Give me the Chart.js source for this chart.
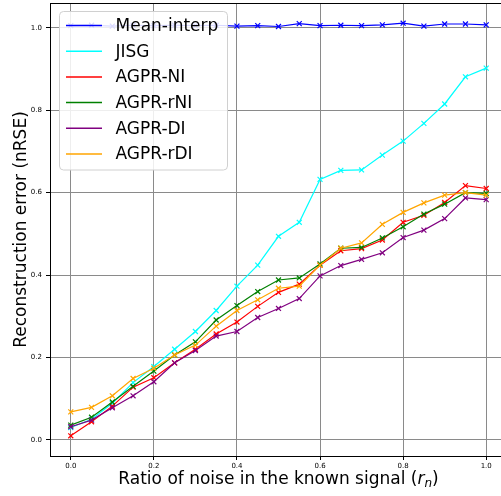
<!DOCTYPE html>
<html>
<head>
<meta charset="utf-8">
<script src="https://cdn.jsdelivr.net/npm/chart.js@4.4.1/dist/chart.umd.min.js"></script>
<style>
html,body{margin:0;padding:0;background:#fff;overflow:hidden;}
canvas{display:block;}
</style>
</head>
<body>
<canvas id="c" width="501" height="496"></canvas>
<script>
const noiseRatio = [0,0.05,0.1,0.15,0.2,0.25,0.3,0.35,0.4,0.45,0.5,0.55,0.6,0.65,0.7,0.75,0.8,0.85,0.9,0.95,1.0];
const meanInterp = [1.005,1.006,1.004,1.006,1.005,1.006,1.005,1.006,1.004,1.005,1.003,1.010,1.005,1.006,1.005,1.007,1.011,1.004,1.009,1.009,1.007];
const jisg       = [0.030,0.050,0.089,0.139,0.178,0.220,0.263,0.314,0.373,0.424,0.494,0.528,0.632,0.654,0.655,0.691,0.725,0.768,0.815,0.881,0.902];
const agprNI     = [0.010,0.044,0.082,0.128,0.151,0.187,0.220,0.257,0.286,0.324,0.358,0.378,0.424,0.459,0.464,0.485,0.528,0.545,0.576,0.617,0.610];
const agprRNI    = [0.036,0.055,0.092,0.130,0.167,0.206,0.238,0.291,0.326,0.360,0.388,0.393,0.427,0.465,0.467,0.490,0.517,0.548,0.572,0.600,0.598];
const agprDI     = [0.032,0.048,0.078,0.107,0.141,0.187,0.217,0.252,0.263,0.297,0.319,0.343,0.398,0.423,0.438,0.454,0.491,0.509,0.537,0.587,0.583];
const agprRDI    = [0.068,0.079,0.107,0.149,0.174,0.206,0.230,0.276,0.314,0.340,0.368,0.373,0.424,0.465,0.478,0.523,0.552,0.575,0.594,0.600,0.594];
const seriesLabels = ["Mean-interp","JISG","AGPR-NI","AGPR-rNI","AGPR-DI","AGPR-rDI"];
const seriesColors = ["#0000ff","#00ffff","#ff0000","#008000","#800080","#ffa500"];
const tickValues = [0,0.2,0.4,0.6,0.8,1.0];

const allSeries = [meanInterp, jisg, agprNI, agprRNI, agprDI, agprRDI];
const FONT = "'DejaVu Sans', sans-serif";
const GRID = '#8a8a8a';

const datasets = allSeries.map((vals, i) => ({
  label: seriesLabels[i],
  data: vals.map((v, j) => ({x: noiseRatio[j], y: v})),
  borderColor: seriesColors[i],
  backgroundColor: seriesColors[i],
  borderWidth: 1.2,
  pointStyle: 'crossRot',
  pointRadius: 3.5,
  pointBorderWidth: 1.2,
  pointBorderColor: seriesColors[i],
  tension: 0,
  fill: false,
  order: allSeries.length - i
}));

const extras = {
  id: 'extras',
  afterDatasetsDraw(chart) {
    const ctx = chart.ctx;
    const a = chart.chartArea;
    ctx.save();
    // clean right strip (axes continue past the window edge), then redraw horizontal grid pieces
    ctx.fillStyle = '#fff';
    ctx.fillRect(496, a.top, 10, a.bottom - a.top);
    ctx.strokeStyle = GRID;
    ctx.lineWidth = 1;
    tickValues.forEach(v => {
      const y = Math.round(chart.scales.y.getPixelForValue(v) - 0.5) + 0.5;
      ctx.beginPath();
      ctx.moveTo(495, y);
      ctx.lineTo(506, y);
      ctx.stroke();
    });
    // top spine
    ctx.strokeStyle = '#000';
    ctx.lineWidth = 1;
    ctx.beginPath();
    ctx.moveTo(a.left, a.top + 0.5);
    ctx.lineTo(a.right + 5, a.top + 0.5);
    ctx.stroke();
    // legend
    const bx = 59.5, by = 11.5, bw = 168, bh = 158.5, r = 4;
    ctx.beginPath();
    ctx.moveTo(bx + r, by);
    ctx.lineTo(bx + bw - r, by);
    ctx.quadraticCurveTo(bx + bw, by, bx + bw, by + r);
    ctx.lineTo(bx + bw, by + bh - r);
    ctx.quadraticCurveTo(bx + bw, by + bh, bx + bw - r, by + bh);
    ctx.lineTo(bx + r, by + bh);
    ctx.quadraticCurveTo(bx, by + bh, bx, by + bh - r);
    ctx.lineTo(bx, by + r);
    ctx.quadraticCurveTo(bx, by, bx + r, by);
    ctx.closePath();
    ctx.fillStyle = 'rgba(255,255,255,0.85)';
    ctx.fill();
    ctx.strokeStyle = '#d0d0d0';
    ctx.lineWidth = 1;
    ctx.stroke();
    ctx.font = '17px ' + FONT;
    ctx.textBaseline = 'middle';
    ctx.textAlign = 'left';
    seriesLabels.forEach((lab, i) => {
      const y = 25.5 + i * 25.7;
      ctx.strokeStyle = seriesColors[i];
      ctx.lineWidth = 1.5;
      ctx.beginPath();
      ctx.moveTo(66, y);
      ctx.lineTo(102, y);
      ctx.stroke();
      ctx.fillStyle = '#000';
      ctx.fillText(lab, 115.5, y + 1);
    });
    // x axis title with italic r and subscript n (centred on full axes width, which extends past the window)
    const cx = 278.5;
    const base = 483.5;
    const p1 = 'Ratio of noise in the known signal (';
    const p2 = 'r';
    const p3 = 'n';
    const p4 = ')';
    ctx.textBaseline = 'alphabetic';
    ctx.font = '17px ' + FONT;
    const w1 = ctx.measureText(p1).width;
    const w4 = ctx.measureText(p4).width;
    ctx.font = 'italic 17px ' + FONT;
    const w2 = ctx.measureText(p2).width;
    ctx.font = 'italic 12px ' + FONT;
    const w3 = ctx.measureText(p3).width;
    const total = w1 + w2 + w3 + w4;
    let x = cx - total / 2;
    ctx.fillStyle = '#000';
    ctx.font = '17px ' + FONT;
    ctx.fillText(p1, x, base); x += w1;
    ctx.font = 'italic 17px ' + FONT;
    ctx.fillText(p2, x, base); x += w2;
    ctx.font = 'italic 12px ' + FONT;
    ctx.fillText(p3, x, base + 3); x += w3;
    ctx.font = '17px ' + FONT;
    ctx.fillText(p4, x, base);
    ctx.restore();
  }
};

new Chart(document.getElementById('c'), {
  type: 'line',
  data: { datasets },
  options: {
    responsive: false,
    devicePixelRatio: 1,
    animation: false,
    layout: { autoPadding: false, padding: { top: 3, right: 0, left: 0, bottom: 0 } },
    plugins: { legend: { display: false }, tooltip: { enabled: false } },
    scales: {
      x: {
        type: 'linear',
        min: -0.05,
        max: 1.0356,
        afterBuildTicks: s => { s.ticks = tickValues.map(v => ({value: v})); },
        afterFit: s => { s.height = 40; s.paddingLeft = 0; s.paddingRight = 0; s.paddingTop = 0; s.paddingBottom = 0; },
        ticks: {
          callback: v => v.toFixed(1),
          font: { family: FONT, size: 7 },
          color: '#000',
          padding: 2,
          maxRotation: 0
        },
        grid: { color: GRID, lineWidth: 1, tickLength: 4, tickColor: '#000', drawTicks: true },
        border: { display: true, color: '#000', width: 1 }
      },
      y: {
        type: 'linear',
        min: -0.039,
        max: 1.06,
        afterBuildTicks: s => { s.ticks = tickValues.map(v => ({value: v})); },
        afterFit: s => { s.width = 50; s.paddingLeft = 0; s.paddingRight = 0; s.paddingTop = 0; s.paddingBottom = 0; },
        ticks: {
          callback: v => v.toFixed(1),
          font: { family: FONT, size: 7 },
          color: '#000',
          padding: 4
        },
        title: {
          display: true,
          text: 'Reconstruction error (nRSE)',
          font: { family: FONT, size: 17 },
          color: '#000',
          padding: { top: 11, bottom: 0 }
        },
        grid: { color: GRID, lineWidth: 1, tickLength: 4, tickColor: '#000', drawTicks: true },
        border: { display: true, color: '#000', width: 1 }
      }
    }
  },
  plugins: [extras]
});
</script>
</body>
</html>
